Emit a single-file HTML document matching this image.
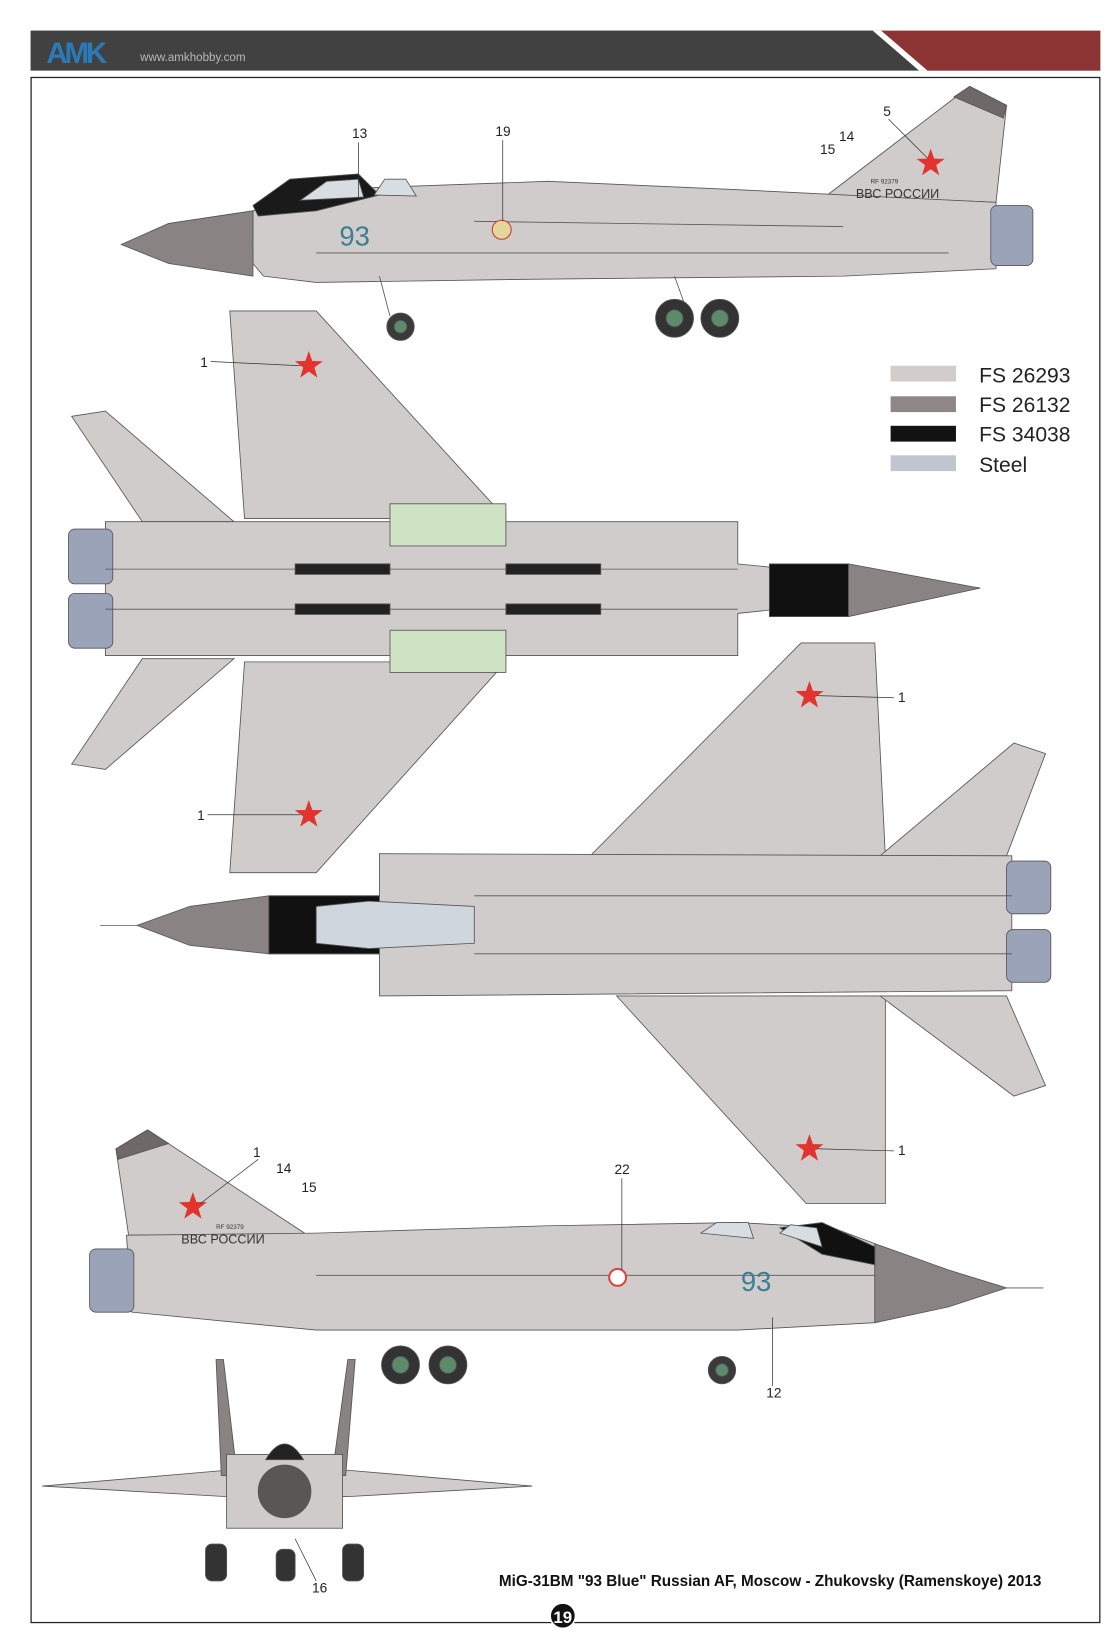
<!DOCTYPE html>
<html><head><meta charset="utf-8"><style>html,body{margin:0;padding:0;background:#fff}svg{display:block}</style></head>
<body>
<svg width="1113" height="1641" viewBox="0 0 1056 1557" preserveAspectRatio="none" xmlns="http://www.w3.org/2000/svg" font-family="Liberation Sans, sans-serif">
<defs>
<polygon id="star" points="0,-14 3.3,-4.5 13.3,-4.3 5.3,1.7 8.2,11.3 0,5.6 -8.2,11.3 -5.3,1.7 -13.3,-4.3 -3.3,-4.5" fill="#e2332f"/>
</defs>
<rect width="1056" height="1557" fill="#fff"/>
<!-- header -->
<rect x="29" y="29" width="1015" height="38" fill="#414141"/>
<polygon points="828,29 1044,29 1044,67 872,67" fill="#fff"/>
<polygon points="836,29 1044,29 1044,67 880,67" fill="#8b3433"/>
<text x="44" y="60" font-size="28" font-weight="bold" fill="#2a7ab8" letter-spacing="-3">AMK</text>
<text x="133" y="58" font-size="11" fill="#b8b8b8">www.amkhobby.com</text>
<!-- frame -->
<rect x="29.5" y="73.5" width="1014" height="1466" fill="none" stroke="#222" stroke-width="1.2"/>

<g stroke="#555" stroke-width="0.8">
<!-- side view 1 -->
<polygon points="785,185 920,82 955,100 945,192" fill="#d0cccb"/>
<polygon points="905,92 920,82 955,100 952,112" fill="#6e6868"/>
<polygon points="240,200 300,180 520,172 700,180 800,185 945,192 945,255 800,262 500,265 300,268 250,262 240,250" fill="#d0cccb"/>
<polygon points="115,232 160,212 240,200 240,262 160,250" fill="#8a8384"/>
<polygon points="240,195 275,170 340,165 360,185 300,200 245,205" fill="#1a1a1a"/>
<polygon points="285,190 310,172 340,170 345,187" fill="#d8dde2"/>
<polygon points="355,185 365,170 385,170 395,186" fill="#d8dde2"/>
<rect x="940" y="195" width="40" height="57" rx="6" fill="#9aa3b8"/>
<line x1="360" y1="262" x2="370" y2="300"/><line x1="640" y1="262" x2="650" y2="290"/>
<circle cx="380" cy="310" r="13" fill="#3a3a3a"/><circle cx="380" cy="310" r="6" fill="#5c8a6a"/>
<circle cx="640" cy="302" r="18" fill="#333"/><circle cx="640" cy="302" r="8" fill="#5c8a6a"/>
<circle cx="683" cy="302" r="18" fill="#333"/><circle cx="683" cy="302" r="8" fill="#5c8a6a"/>
<line x1="450" y1="210" x2="800" y2="215"/><line x1="300" y1="240" x2="900" y2="240"/>

<!-- top view -->
<polygon points="218,295 300,295 480,492 232,492" fill="#d0cccb"/>
<polygon points="218,828 300,828 480,628 232,628" fill="#d0cccb"/>
<polygon points="68,395 100,390 222,495 135,495" fill="#d0cccb"/>
<polygon points="68,725 100,730 222,625 135,625" fill="#d0cccb"/>
<polygon points="100,495 700,495 700,535 930,558 700,582 700,622 100,622" fill="#d0cccb"/>
<polygon points="730,535 805,535 805,585 730,585" fill="#111"/>
<polygon points="805,535 930,558 805,585" fill="#8a8384"/>
<rect x="65" y="502" width="42" height="52" rx="6" fill="#9aa3b8"/>
<rect x="65" y="563" width="42" height="52" rx="6" fill="#9aa3b8"/>
<rect x="370" y="478" width="110" height="40" fill="#cfe3c4"/>
<rect x="370" y="598" width="110" height="40" fill="#cfe3c4"/>
<line x1="100" y1="540" x2="700" y2="540"/><line x1="100" y1="578" x2="700" y2="578"/>
<rect x="280" y="535" width="90" height="10" fill="#222"/><rect x="480" y="535" width="90" height="10" fill="#222"/>
<rect x="280" y="573" width="90" height="10" fill="#222"/><rect x="480" y="573" width="90" height="10" fill="#222"/>

<!-- bottom view -->
<polygon points="760,610 830,610 840,812 560,812" fill="#d0cccb"/>
<polygon points="765,1142 840,1142 840,945 585,945" fill="#d0cccb"/>
<polygon points="962,705 992,715 955,812 835,812" fill="#d0cccb"/>
<polygon points="835,945 955,945 992,1030 962,1040" fill="#d0cccb"/>
<polygon points="360,810 960,812 960,940 360,945 360,905 255,905 255,850 360,850" fill="#d0cccb"/>
<polygon points="255,850 360,850 360,905 255,905" fill="#111"/>
<polygon points="130,878 180,860 255,850 255,905 180,897" fill="#8a8384"/>
<polygon points="300,860 350,855 450,860 450,895 350,900 300,895" fill="#cfd6de"/>
<rect x="955" y="817" width="42" height="50" rx="6" fill="#9aa3b8"/>
<rect x="955" y="882" width="42" height="50" rx="6" fill="#9aa3b8"/>
<line x1="450" y1="850" x2="960" y2="850"/><line x1="450" y1="905" x2="960" y2="905"/>
<line x1="95" y1="878" x2="130" y2="878"/>

<!-- side view 3 -->
<polygon points="110,1090 140,1072 292,1172 122,1172" fill="#d0cccb"/>
<polygon points="110,1090 140,1072 160,1085 112,1100" fill="#6e6868"/>
<polygon points="120,1172 300,1170 520,1163 700,1160 790,1165 830,1180 830,1255 700,1262 500,1262 300,1262 125,1245" fill="#d0cccb"/>
<polygon points="830,1180 900,1205 955,1222 900,1240 830,1255" fill="#8a8384"/>
<polygon points="740,1165 780,1160 830,1183 830,1200 780,1190" fill="#111"/>
<polygon points="665,1170 680,1160 710,1160 715,1175" fill="#d8dde2"/>
<polygon points="740,1170 750,1162 775,1165 780,1183" fill="#d8dde2"/>
<rect x="85" y="1185" width="42" height="60" rx="6" fill="#9aa3b8"/>
<line x1="955" y1="1222" x2="990" y2="1222"/>
<line x1="300" y1="1210" x2="830" y2="1210"/>
<circle cx="380" cy="1295" r="18" fill="#333"/><circle cx="380" cy="1295" r="8" fill="#5c8a6a"/>
<circle cx="425" cy="1295" r="18" fill="#333"/><circle cx="425" cy="1295" r="8" fill="#5c8a6a"/>
<circle cx="685" cy="1300" r="13" fill="#3a3a3a"/><circle cx="685" cy="1300" r="6" fill="#5c8a6a"/>

<!-- front view -->
<polygon points="40,1410 215,1395 330,1395 505,1410 330,1420 215,1420" fill="#d0cccb"/>
<polygon points="205,1290 212,1290 225,1400 210,1400" fill="#8a8384"/>
<polygon points="330,1290 337,1290 328,1400 315,1400" fill="#8a8384"/>
<rect x="215" y="1380" width="110" height="70" fill="#cfcbcb"/>
<circle cx="270" cy="1415" r="25" fill="#5a5656"/>
<path d="M252,1385 Q270,1355 288,1385 Z" fill="#222"/>
<rect x="195" y="1465" width="20" height="35" rx="6" fill="#333"/><rect x="325" y="1465" width="20" height="35" rx="6" fill="#333"/>
<rect x="262" y="1470" width="18" height="30" rx="6" fill="#333"/>
</g>

<!-- stars and markings -->
<use href="#star" x="293" y="347"/><use href="#star" x="293" y="773"/>
<use href="#star" x="768" y="660"/><use href="#star" x="768" y="1090"/>
<use href="#star" x="883" y="155"/><use href="#star" x="183" y="1145"/>
<text x="322" y="233" font-size="26" fill="#3b7f93">93</text>
<text x="703" y="1225" font-size="26" fill="#3b7f93">93</text>
<text x="812" y="188" font-size="12" fill="#333">ВВС РОССИИ</text>
<text x="172" y="1180" font-size="12" fill="#333">ВВС РОССИИ</text>
<text x="826" y="174" font-size="6" fill="#333">RF 92379</text>
<text x="205" y="1166" font-size="6" fill="#333">RF 92379</text>
<circle cx="476" cy="218" r="9" fill="#e4d59a" stroke="#c33"/>
<circle cx="586" cy="1212" r="8" fill="#fff" stroke="#d44" stroke-width="2"/>

<!-- labels -->
<g font-size="13" fill="#222">
<text x="334" y="131">13</text><text x="470" y="129">19</text>
<text x="838" y="110">5</text><text x="796" y="134">14</text><text x="778" y="146">15</text>
<text x="190" y="348">1</text><text x="187" y="778">1</text>
<text x="852" y="666">1</text><text x="852" y="1096">1</text>
<text x="240" y="1098">1</text><text x="262" y="1113">14</text><text x="286" y="1131">15</text>
<text x="583" y="1114">22</text><text x="727" y="1326">12</text><text x="296" y="1511">16</text>
</g>
<g stroke="#333" stroke-width="0.7">
<line x1="340" y1="135" x2="340" y2="190"/><line x1="477" y1="133" x2="477" y2="210"/>
<line x1="200" y1="343" x2="285" y2="347"/><line x1="197" y1="773" x2="285" y2="773"/>
<line x1="848" y1="662" x2="775" y2="660"/><line x1="848" y1="1092" x2="775" y2="1090"/>
<line x1="590" y1="1118" x2="590" y2="1205"/><line x1="733" y1="1315" x2="733" y2="1250"/>
<line x1="843" y1="113" x2="880" y2="150"/><line x1="245" y1="1100" x2="190" y2="1142"/>
<line x1="300" y1="1500" x2="280" y2="1460"/>
</g>

<!-- legend -->
<rect x="845" y="347" width="62" height="15" fill="#d2cdcb"/>
<rect x="845" y="376" width="62" height="15" fill="#8e8687"/>
<rect x="845" y="404" width="62" height="15" fill="#121212"/>
<rect x="845" y="432" width="62" height="15" fill="#c1c5d0"/>
<g font-size="20" fill="#222">
<text x="929" y="363">FS 26293</text><text x="929" y="391">FS 26132</text>
<text x="929" y="419">FS 34038</text><text x="929" y="448">Steel</text>
</g>

<text x="988" y="1505" font-size="14.5" font-weight="bold" text-anchor="end" fill="#111">MiG-31BM "93 Blue" Russian AF, Moscow - Zhukovsky (Ramenskoye) 2013</text>
<circle cx="534" cy="1533" r="12" fill="#111" stroke="#fff" stroke-width="1.5"/>
<text x="534" y="1540" font-size="16" font-weight="bold" text-anchor="middle" fill="#fff">19</text>
</svg>
</body></html>
